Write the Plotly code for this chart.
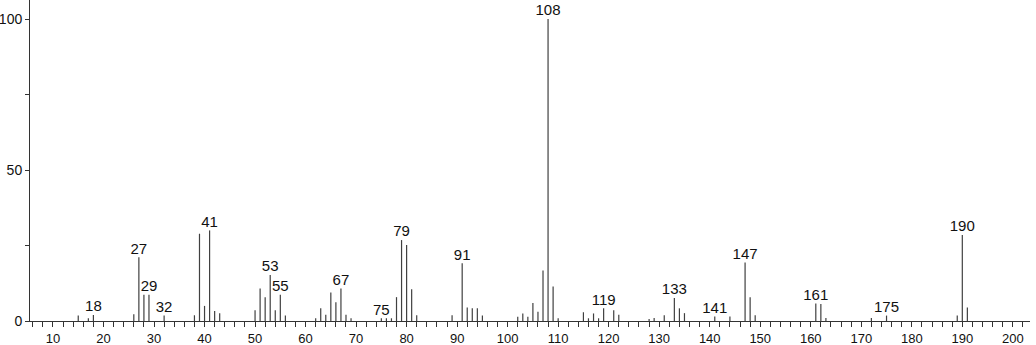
import plotly.graph_objects as go

mz = [15, 17, 18, 26, 27, 28, 29, 32, 38, 39, 40, 41, 42, 43,
      50, 51, 52, 53, 54, 55, 56, 62, 63, 64, 65, 66, 67, 68, 69,
      75, 76, 77, 78, 79, 80, 81, 82, 89, 91, 92, 93, 94, 95,
      102, 103, 104, 105, 106, 107, 108, 109, 110,
      115, 116, 117, 118, 119, 121, 122, 128, 129, 131, 133, 134, 135,
      141, 144, 147, 148, 149, 161, 162, 163, 172, 175, 189, 190, 191]
intensity = [1.8, 0.9, 2.0, 2.2, 21.1, 8.7, 8.7, 1.8, 1.9, 28.9, 5.0, 30.0, 3.3, 2.6,
             3.6, 10.8, 7.9, 15.2, 3.6, 8.7, 1.8, 0.9, 4.2, 2.1, 9.4, 6.2, 10.8, 2.1, 0.9,
             0.9, 0.9, 0.9, 7.9, 26.8, 25.2, 10.5, 1.9, 1.9, 19.1, 4.5, 4.2, 4.2, 1.8,
             1.4, 2.5, 1.4, 6.0, 3.1, 16.7, 100.0, 11.4, 0.9,
             2.9, 0.9, 2.5, 0.9, 4.2, 3.6, 2.1, 0.7, 1.0, 1.9, 7.6, 4.2, 2.6,
             1.5, 1.5, 19.4, 7.9, 1.9, 5.8, 5.6, 1.0, 1.0, 1.8, 1.8, 28.5, 4.5]
labeled = [18, 27, 29, 32, 41, 53, 55, 67, 75, 79, 91, 108, 119, 133, 141, 147, 161, 175, 190]

xs, ys = [], []
for m, v in zip(mz, intensity):
    xs += [m, m, None]
    ys += [0, v, None]

lab_x = [m for m in labeled]
lab_y = [intensity[mz.index(m)] for m in labeled]
lab_t = [str(m) for m in labeled]

FONT = "Liberation Sans, Arial"

fig = go.Figure()
fig.add_trace(go.Scatter(x=xs, y=ys, mode="lines",
                         line=dict(color="#404040", width=1.2),
                         hoverinfo="skip", showlegend=False))
fig.add_trace(go.Scatter(x=lab_x, y=lab_y, mode="text", text=lab_t,
                         textposition="top center",
                         textfont=dict(family=FONT, size=15, color="#111"),
                         cliponaxis=False, showlegend=False))

fig.update_layout(
    width=1036, height=345,
    margin=dict(l=30, r=6, t=0, b=24),
    paper_bgcolor="white", plot_bgcolor="white",
    font=dict(family=FONT, size=14, color="#111"),
)
fig.update_xaxes(range=[5.45, 203.4], showgrid=False, zeroline=False,
                 showline=True, linecolor="#333", linewidth=1,
                 tickmode="linear", tick0=0, dtick=10,
                 ticks="outside", ticklen=5, tickcolor="#333",
                 minor=dict(dtick=2, tick0=0, ticks="outside", ticklen=5, tickcolor="#333"),
                 tickfont=dict(size=13), ticklabelstandoff=0, automargin=False)
fig.update_yaxes(range=[0, 106.3], showgrid=False, zeroline=False,
                 showline=True, linecolor="#333", linewidth=1,
                 tickmode="linear", tick0=0, dtick=50,
                 ticks="outside", ticklen=4, tickcolor="#333",
                 minor=dict(dtick=25, tick0=0, ticks="outside", ticklen=4, tickcolor="#333"),
                 tickfont=dict(size=14), ticklabelstandoff=0, automargin=False)

fig.write_html("out.html")
